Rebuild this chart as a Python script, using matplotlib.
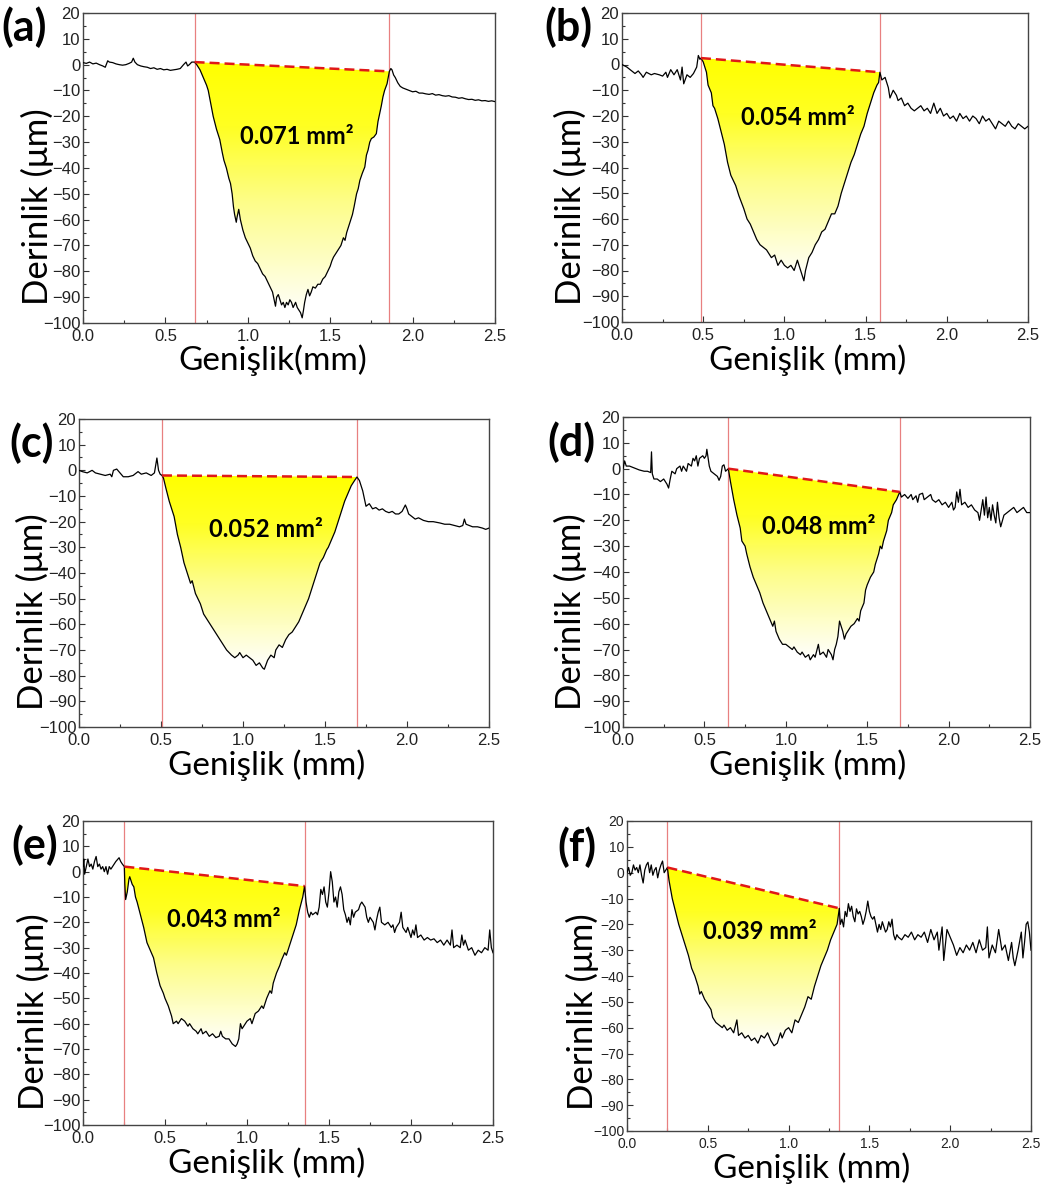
import numpy as np
import matplotlib.pyplot as plt
from matplotlib.colors import LinearSegmentedColormap
from matplotlib.patches import Polygon

W, H = 1063, 1187

# profile data (x in mm, y in um)
xa = [0.0, 0.02, 0.04, 0.06, 0.08, 0.1, 0.12, 0.135, 0.15, 0.16, 0.18, 0.2, 0.22, 0.24, 0.26, 0.28, 0.295, 0.305, 0.315,
      0.33, 0.35, 0.37, 0.39, 0.41, 0.43, 0.45, 0.47, 0.49, 0.51, 0.53, 0.55, 0.57, 0.59, 0.61, 0.625, 0.635, 0.645, 0.66,
      0.677, 0.69, 0.71, 0.73, 0.75, 0.76, 0.775, 0.79, 0.81, 0.83, 0.845, 0.855, 0.87, 0.885, 0.895, 0.905, 0.913, 0.92,
      0.93, 0.935, 0.945, 0.955, 0.97, 0.985, 1.0, 1.015, 1.03, 1.045, 1.06, 1.075, 1.09, 1.105, 1.12, 1.135, 1.15, 1.16,
      1.168, 1.175, 1.185, 1.195, 1.205, 1.215, 1.225, 1.235, 1.245, 1.255, 1.265, 1.275, 1.29, 1.3, 1.31, 1.32, 1.33,
      1.338, 1.345, 1.355, 1.365, 1.375, 1.385, 1.395, 1.41, 1.425, 1.44, 1.455, 1.47, 1.485, 1.5, 1.51, 1.52, 1.535, 1.55,
      1.565, 1.58, 1.59, 1.6, 1.61, 1.625, 1.635, 1.645, 1.66, 1.67, 1.68, 1.695, 1.71, 1.72, 1.73, 1.74, 1.75, 1.765, 1.78,
      1.79, 1.8, 1.81, 1.82, 1.83, 1.845, 1.859, 1.868, 1.875, 1.885, 1.895, 1.91, 1.925, 1.94, 1.96, 1.98, 2.0, 2.02, 2.04,
      2.06, 2.08, 2.1, 2.12, 2.14, 2.16, 2.18, 2.2, 2.22, 2.24, 2.26, 2.28, 2.3, 2.32, 2.34, 2.36, 2.38, 2.4, 2.42, 2.44,
      2.46, 2.48, 2.5]
ya = [0.8, 0.5, 1, 0.3, 0.6, 0, -0.5, -1, 1.5, 1, 0.8, 0.3, 0, -0.2, 0, 0.5, 1, 2.5, 1,
      0, -0.5, -0.8, -1, -1.5, -1.2, -1.8, -1.5, -2, -1.8, -2.2, -2, -1.8, -1.5, 0, 1, -0.5, 0, 1,
      1, 0, -2, -5, -8, -10, -15, -20, -25, -29, -34, -37, -40, -44, -46, -50, -55, -58,
      -61, -59, -56, -60, -64, -67, -69, -71, -74, -76, -77, -79, -81, -82, -84, -86, -88, -91,
      -93.5, -90, -89, -91, -93, -92, -94, -92, -93, -91, -92, -94, -92, -94, -95, -96, -98,
      -95, -92, -89, -87, -89.5, -88, -86, -86.5, -85, -85, -83, -82, -80, -78, -76, -74.5, -73, -71.5,
      -70, -67, -68, -65, -63, -60, -58, -55, -50, -48, -44.8, -42, -39.6, -35, -33, -30, -28.6, -28, -26.7,
      -22, -19, -16, -12.5, -10, -7.4, -2.6, -1.5, -2, -4, -5, -7, -8.4, -9, -9.5, -10, -10.5, -10.3, -11,
      -11, -11.3, -11.5, -11.2, -11.8, -11.6, -12, -12.2, -12, -12.5, -12.6, -13, -12.8, -13.2, -13.5, -13.4, -13.8, -13.6, -14, -13.9,
      -14.2, -14, -14.3]

xb = [0.0, 0.03, 0.05, 0.08, 0.1, 0.12, 0.13, 0.15, 0.18, 0.2, 0.23, 0.25, 0.27, 0.28, 0.3, 0.32, 0.34, 0.36, 0.37, 0.38,
      0.4, 0.42, 0.44, 0.46, 0.47, 0.48, 0.486, 0.5, 0.52, 0.53, 0.55, 0.56, 0.57, 0.59, 0.61, 0.63, 0.65, 0.67, 0.7, 0.72,
      0.75, 0.77, 0.79, 0.81, 0.83, 0.85, 0.87, 0.89, 0.92, 0.94, 0.96, 0.98, 1.0, 1.02, 1.04, 1.06, 1.08, 1.1, 1.12, 1.13,
      1.15, 1.17, 1.19, 1.21, 1.23, 1.25, 1.27, 1.29, 1.31, 1.33, 1.35, 1.37, 1.39, 1.41, 1.43, 1.45, 1.47, 1.49, 1.51,
      1.53, 1.55, 1.57, 1.58, 1.588, 1.6, 1.62, 1.64, 1.65, 1.67, 1.69, 1.7, 1.72, 1.74, 1.76, 1.78, 1.8, 1.82, 1.84, 1.86,
      1.88, 1.9, 1.92, 1.94, 1.96, 1.98, 2.0, 2.02, 2.04, 2.06, 2.08, 2.1, 2.12, 2.14, 2.16, 2.18, 2.2, 2.22, 2.24, 2.26,
      2.28, 2.3, 2.32, 2.34, 2.36, 2.38, 2.4, 2.42, 2.44, 2.46, 2.48, 2.5]
yb = [0, -1, -2, -3.5, -2.5, -4, -5, -3, -4, -3.5, -4, -4.5, -3, -5, -2, -4, -2, -6, -1, -7.5,
      -4, -5, -3.5, -1, 3.5, 2, 2.5, 1, -3, -8, -11, -16, -17, -21, -26, -31, -38, -43, -47, -51,
      -56, -60, -62, -65, -68, -70, -71, -72, -75, -74, -78, -76, -78, -79, -78, -80, -76, -80, -84, -80,
      -75, -73, -70, -68, -65, -64, -61, -58, -58, -55, -50, -46, -42, -38, -35, -31, -27, -24, -19,
      -15, -11, -8, -7, -3, -6, -5, -9, -13, -10, -12, -14, -13, -16, -15, -17, -18, -17, -16, -18,
      -17, -19, -15, -19, -17, -20, -19, -21, -20, -22, -19, -21, -20, -22, -20, -21, -23, -20, -22, -21,
      -23, -25, -22, -23, -24, -22, -24, -25, -23, -24, -25, -24]

xc = [0.0, 0.02, 0.05, 0.08, 0.1, 0.13, 0.16, 0.19, 0.2, 0.21, 0.23, 0.25, 0.27, 0.3, 0.33, 0.35, 0.36, 0.38, 0.41, 0.44,
      0.46, 0.475, 0.485, 0.495, 0.506, 0.515, 0.53, 0.55, 0.58, 0.6, 0.62, 0.64, 0.66, 0.68, 0.69, 0.71, 0.74, 0.76, 0.78,
      0.8, 0.82, 0.84, 0.86, 0.88, 0.9, 0.93, 0.95, 0.97, 0.98, 1.0, 1.02, 1.04, 1.06, 1.08, 1.1, 1.12, 1.13, 1.15, 1.17,
      1.19, 1.2, 1.22, 1.24, 1.26, 1.28, 1.3, 1.32, 1.34, 1.36, 1.38, 1.4, 1.42, 1.44, 1.46, 1.47, 1.49, 1.51, 1.52, 1.54,
      1.56, 1.58, 1.6, 1.62, 1.64, 1.66, 1.68, 1.695, 1.71, 1.72, 1.73, 1.75, 1.77, 1.79, 1.81, 1.83, 1.85, 1.87, 1.89,
      1.91, 1.93, 1.95, 1.97, 1.99, 2.0, 2.01, 2.03, 2.05, 2.07, 2.1, 2.13, 2.16, 2.2, 2.23, 2.26, 2.29, 2.32, 2.34, 2.35,
      2.36, 2.38, 2.4, 2.43, 2.46, 2.48, 2.5]
yc = [0, -0.5, -1, 0, -1, -1.5, -2, -1.5, -2.5, 0, 0.5, -1, -2.5, -2.5, -2, -1, -0.5, -1.5, -1, -2,
      -1, 4.8, 0, -1.5, -2, -3, -7, -12, -18, -25, -30, -36, -40, -44, -43, -48, -52, -56, -58,
      -60, -62, -64, -66, -68, -70, -72, -73, -72, -71, -73, -72, -73, -74, -76, -75, -77, -77.5, -74, -72,
      -73, -70, -68, -69, -66, -64, -63, -61, -59, -56, -53, -50, -46, -42, -38, -36, -34, -31, -30, -27,
      -24, -20, -16, -12, -9, -6, -4, -2.6, -4, -6, -8, -14, -13, -15, -14.5, -15.5, -15, -16, -16.5,
      -16, -17, -17, -16, -13.5, -15, -17, -18, -19, -18.5, -19.5, -20, -20, -20.5, -21, -21, -21.5, -22, -21.5, -19,
      -21, -21.5, -22, -22, -22.5, -23, -22.5]

xd = [0.0, 0.01, 0.02, 0.04, 0.06, 0.08, 0.1, 0.13, 0.15, 0.17, 0.175, 0.18, 0.19, 0.21, 0.23, 0.25, 0.27, 0.28, 0.29,
      0.3, 0.32, 0.33, 0.35, 0.36, 0.37, 0.39, 0.4, 0.42, 0.43, 0.44, 0.45, 0.46, 0.47, 0.49, 0.5, 0.51, 0.515, 0.53, 0.54,
      0.56, 0.58, 0.59, 0.6, 0.61, 0.62, 0.63, 0.647, 0.66, 0.68, 0.7, 0.72, 0.73, 0.74, 0.75, 0.76, 0.78, 0.8, 0.82, 0.84,
      0.86, 0.88, 0.9, 0.92, 0.93, 0.94, 0.96, 0.98, 1.0, 1.02, 1.04, 1.05, 1.07, 1.09, 1.1, 1.12, 1.14, 1.15, 1.17, 1.18,
      1.2, 1.21, 1.23, 1.25, 1.26, 1.28, 1.29, 1.3, 1.31, 1.32, 1.33, 1.34, 1.35, 1.36, 1.37, 1.38, 1.4, 1.42, 1.44, 1.45,
      1.46, 1.48, 1.49, 1.5, 1.52, 1.54, 1.55, 1.57, 1.58, 1.59, 1.6, 1.62, 1.63, 1.65, 1.66, 1.68, 1.7, 1.71, 1.73, 1.75,
      1.77, 1.78, 1.8, 1.81, 1.82, 1.84, 1.85, 1.87, 1.89, 1.9, 1.92, 1.94, 1.96, 1.98, 2.0, 2.01, 2.02, 2.03, 2.04, 2.05,
      2.06, 2.07, 2.08, 2.1, 2.12, 2.14, 2.16, 2.18, 2.19, 2.2, 2.21, 2.22, 2.23, 2.24, 2.25, 2.26, 2.27, 2.28, 2.29, 2.3,
      2.31, 2.32, 2.34, 2.36, 2.38, 2.4, 2.42, 2.44, 2.46, 2.48, 2.5]
yd = [0, 3, 1, 1, 0.5, 0, -0.5, -1, -1, -1.5, 6.5, -2, -4, -4, -5, -4, -6, -7.5, -4,
      -1, -2, 0, 1, -1, 1, -1, 2, 1, 4, 3, 5, 1, 4, 5, 4, 5, 7.5, 1, -1,
      -2, -3, -4.5, -3, 1, 1.5, -1, 0, -5, -12, -18, -23, -28, -29, -30, -33, -38, -42, -45, -48,
      -52, -55, -58, -61, -59, -63, -66, -68, -68, -69, -70, -69, -71, -72, -71, -73, -72, -74, -72, -73,
      -68, -72, -71, -73, -70, -72, -74, -70, -68, -65, -59, -61, -63, -66, -64, -63, -61, -60, -58, -59,
      -55, -52, -47, -45, -42, -40, -37, -33, -30, -31, -28, -24, -20, -17, -14, -12, -9, -11, -10, -11.5,
      -10, -12, -10.5, -13, -10, -9.5, -12, -11, -10, -12, -13, -12, -14, -13, -15, -14, -13, -16, -15, -9,
      -13, -8, -14, -13, -15, -14, -16, -17, -20, -16, -12, -18, -11, -19, -15, -20, -14, -18, -21, -13,
      -19, -22.5, -18, -17, -16, -15, -17, -16, -15, -17, -17]

xe = [0.0, 0.005, 0.01, 0.02, 0.03, 0.04, 0.05, 0.06, 0.07, 0.08, 0.09, 0.1, 0.11, 0.12, 0.13, 0.14, 0.15, 0.16, 0.17,
      0.18, 0.19, 0.2, 0.22, 0.23, 0.24, 0.252, 0.255, 0.26, 0.27, 0.28, 0.285, 0.3, 0.31, 0.32, 0.33, 0.35, 0.37, 0.39,
      0.41, 0.43, 0.45, 0.47, 0.49, 0.5, 0.52, 0.54, 0.55, 0.57, 0.58, 0.6, 0.62, 0.64, 0.65, 0.67, 0.69, 0.7, 0.72, 0.73,
      0.75, 0.77, 0.79, 0.81, 0.83, 0.84, 0.85, 0.87, 0.89, 0.91, 0.93, 0.94, 0.95, 0.96, 0.97, 0.98, 1.0, 1.02, 1.03,
      1.05, 1.07, 1.09, 1.1, 1.12, 1.14, 1.15, 1.16, 1.18, 1.2, 1.21, 1.23, 1.24, 1.26, 1.28, 1.3, 1.32, 1.34, 1.351, 1.36,
      1.37, 1.38, 1.39, 1.4, 1.42, 1.43, 1.44, 1.45, 1.46, 1.47, 1.48, 1.49, 1.5, 1.51, 1.52, 1.53, 1.54, 1.55, 1.56, 1.57,
      1.58, 1.59, 1.6, 1.61, 1.62, 1.63, 1.64, 1.65, 1.66, 1.68, 1.69, 1.7, 1.72, 1.73, 1.74, 1.75, 1.77, 1.78, 1.79, 1.8,
      1.81, 1.82, 1.84, 1.86, 1.88, 1.89, 1.9, 1.91, 1.93, 1.94, 1.95, 1.97, 1.98, 2.0, 2.01, 2.02, 2.03, 2.04, 2.06, 2.08,
      2.1, 2.12, 2.14, 2.16, 2.18, 2.2, 2.22, 2.24, 2.25, 2.26, 2.28, 2.3, 2.31, 2.32, 2.33, 2.35, 2.37, 2.39, 2.41, 2.43,
      2.45, 2.47, 2.48, 2.49, 2.5]
ye = [2, 5, -1, 2, 5, 2, 3, 1, 4, 6, 2, 3, 1, 2, 0, 2, -1, 2, 1,
      2, 3, 4, 5.5, 4, 3, 2, -5, -11, -8, -3, -2, -5, -6, -10, -12, -17, -22, -28,
      -31, -34, -40, -45, -48, -50, -53, -57, -60, -59, -60, -58, -59, -61, -60, -62, -63, -64, -62, -64,
      -63, -65, -64, -65.5, -65, -63, -65, -66, -66, -68, -69, -68, -66, -60, -62, -61, -59, -58, -60,
      -56, -55, -53, -54, -50, -47, -48, -44, -40, -37, -35, -32, -33, -29, -25, -21, -15, -10, -5.7, -12,
      -16, -18, -16, -17, -16, -17, -14, -7, -9, -6, -12, -14, -8, 0, -4, -12, -10, -14, -8, -6,
      -9, -15, -17, -20, -18, -21, -15, -18, -16, -15, -13, -12, -14, -18, -20, -18, -20, -23, -19, -16,
      -14, -20, -21, -20, -22, -21, -24, -22, -20, -16, -22, -24, -22, -26, -23, -25, -21, -26, -25, -27,
      -26, -27, -26.5, -28, -27, -29, -27, -29, -23, -30, -29, -30, -25, -29, -27, -31, -30, -33, -31, -32,
      -30, -31, -23, -30, -32]

xf = [0.0, 0.01, 0.02, 0.03, 0.04, 0.05, 0.06, 0.07, 0.08, 0.09, 0.1, 0.11, 0.12, 0.13, 0.14, 0.15, 0.16, 0.17, 0.18,
      0.19, 0.2, 0.21, 0.22, 0.23, 0.24, 0.25, 0.26, 0.28, 0.3, 0.32, 0.34, 0.36, 0.38, 0.4, 0.42, 0.44, 0.45, 0.46, 0.48,
      0.5, 0.52, 0.53, 0.55, 0.57, 0.59, 0.6, 0.62, 0.64, 0.66, 0.68, 0.69, 0.71, 0.73, 0.75, 0.77, 0.79, 0.81, 0.83, 0.85,
      0.87, 0.89, 0.91, 0.93, 0.95, 0.96, 0.98, 1.0, 1.02, 1.04, 1.06, 1.08, 1.1, 1.12, 1.14, 1.16, 1.18, 1.2, 1.22, 1.24,
      1.26, 1.28, 1.3, 1.314, 1.32, 1.33, 1.34, 1.35, 1.36, 1.37, 1.38, 1.39, 1.4, 1.41, 1.42, 1.43, 1.44, 1.45, 1.46, 1.47,
      1.48, 1.49, 1.5, 1.51, 1.52, 1.53, 1.54, 1.55, 1.56, 1.57, 1.58, 1.59, 1.6, 1.61, 1.62, 1.63, 1.64, 1.65, 1.66, 1.67,
      1.68, 1.7, 1.72, 1.74, 1.76, 1.78, 1.8, 1.82, 1.84, 1.86, 1.88, 1.9, 1.92, 1.93, 1.95, 1.96, 1.98, 2.0, 2.02, 2.04,
      2.06, 2.08, 2.1, 2.12, 2.14, 2.16, 2.18, 2.2, 2.22, 2.23, 2.24, 2.26, 2.28, 2.3, 2.32, 2.34, 2.36, 2.38, 2.39, 2.4,
      2.42, 2.44, 2.45, 2.46, 2.47, 2.48, 2.49, 2.5]
yf = [0, 2, -1, 0, 3, 1, 2, 0, 3, -1, -4, 1, 3, 4, 0, 3, -1, 1, 2,
      -2, 1, 3, 4.5, 0, 1, 2, -3, -10, -15, -20, -24, -28, -32, -37, -40, -44, -47, -46, -49,
      -51, -53, -56, -58, -59, -60, -59, -61, -60, -62, -57, -63, -62, -64, -63, -65, -64, -66, -63, -64,
      -62, -65, -67, -66, -62, -64, -61, -60, -62, -57, -58, -55, -52, -48, -49, -44, -40, -36, -33, -30,
      -26, -23, -20, -13.8, -20, -18, -21, -15, -17, -12, -15, -13, -17, -19, -14, -16, -15, -17, -20, -18,
      -15, -11, -15, -17, -18, -17, -20, -23, -20, -22, -19, -21, -23, -22, -19, -21, -18, -24, -26, -24,
      -25, -26, -24, -25, -23, -26, -24, -25, -23, -27, -22, -26, -23, -30, -21, -34, -22, -25, -28, -32,
      -29, -31, -28, -30, -27, -31, -26, -30, -29, -21, -33, -28, -31, -22, -30, -28, -34, -27, -33, -36,
      -30, -23, -33, -27, -20, -19, -23, -30]

letters = ["(a)", "(b)", "(c)", "(d)", "(e)", "(f)"]
areas = ["0.071 mm²", "0.054 mm²", "0.052 mm²", "0.048 mm²", "0.043 mm²", "0.039 mm²"]
# crater edges: left x, left y, right x, right y
edges = [(0.677, 1, 1.859, -2.6), (0.486, 2.5, 1.588, -3), (0.506, -2, 1.695, -2.6),
         (0.647, 0, 1.70, -9), (0.252, 2, 1.351, -5.7), (0.25, 2, 1.314, -13.8)]
area_pos = [(1.30, -28), (1.086, -20.5), (1.142, -23), (1.204, -22.5), (0.858, -19), (0.822, -22.8)]
xlabels = ["Genişlik(mm)", "Genişlik (mm)", "Genişlik (mm)", "Genişlik (mm)", "Genişlik (mm)", "Genişlik (mm)"]
profiles = [(xa, ya), (xb, yb), (xc, yc), (xd, yd), (xe, ye), (xf, yf)]

# layout in pixels
boxes = [(83, 13, 495, 323), (622, 13, 1028, 322), (79, 419, 489, 727),
         (623, 417, 1030, 727), (83, 821, 493, 1125), (627, 821, 1031, 1131)]
letter_xy = [(1, 27), (544, 27), (9, 443), (547, 442), (11, 845), (557, 847)]
ylab_xy = [(37, 207), (570, 207), (32, 612), (570, 612), (33, 1012), (582, 1012)]
xlab_xy = [(273, 360), (808, 360), (267, 765), (808, 765), (267, 1163), (812, 1168)]

lab_font = ["Lato", "DejaVu Sans"]
cmap = LinearSegmentedColormap.from_list("pit", [(0, "#ffffff"), (0.45, "#fdfd8a"), (0.75, "#ffff22"), (1, "#ffff00")])

fig = plt.figure(figsize=(W / 100, H / 100), dpi=100)

for i in range(6):
    l, t, r, b = boxes[i]
    ax = fig.add_axes([l / W, 1 - b / H, (r - l) / W, (b - t) / H])
    x, y = profiles[i]
    xl, yl, xr, yr = edges[i]

    # gradient fill inside the crater
    inside = [(px, py) for px, py in zip(x, y) if xl < px < xr]
    poly = Polygon([(xl, yl)] + inside + [(xr, yr)], closed=True, facecolor="none", edgecolor="none")
    ax.add_patch(poly)
    ybot = min(py for _, py in inside)
    grad = np.linspace(0, 1, 256).reshape(-1, 1)
    im = ax.imshow(grad, cmap=cmap, origin="lower", aspect="auto",
                   extent=[xl, xr, ybot, max(yl, yr)], zorder=1)
    im.set_clip_path(poly)

    ax.axvline(xl, color="#e88080", lw=0.9, zorder=2)
    ax.axvline(xr, color="#e88080", lw=0.9, zorder=2)
    ax.plot(x, y, color="black", lw=0.9, zorder=3)
    ax.plot([xl, xr], [yl, yr], color="#e01818", lw=1.8, ls=(0, (4, 2)), zorder=4)

    ax.text(area_pos[i][0], area_pos[i][1], areas[i], ha="center", va="center",
            fontsize=17, fontweight="bold", family=lab_font, zorder=5)

    ax.set_xlim(0, 2.5)
    ax.set_ylim(-100, 20)
    ax.set_xticks(np.arange(0, 2.51, 0.5))
    ax.set_xticks(np.arange(0.25, 2.5, 0.5), minor=True)
    ax.set_yticks(np.arange(-100, 21, 10))
    ax.set_yticks(np.arange(-95, 20, 10), minor=True)
    ts = 10 if i == 5 else 12
    ax.set_xticklabels(["0.0", "0.5", "1.0", "1.5", "2.0", "2.5"])
    ax.tick_params(which="both", direction="in", labelsize=ts, color="#333333", labelcolor="#222222",
                   labelfontfamily="Liberation Sans")
    ax.tick_params(axis="y", pad=2)
    ax.tick_params(axis="x", pad=4.5)
    ax.tick_params(which="major", length=4, width=0.8)
    ax.tick_params(which="minor", length=2.5, width=0.8)
    for s in ax.spines.values():
        s.set_color("#444444")
        s.set_linewidth(1.0)

    fig.text(letter_xy[i][0] / W, 1 - letter_xy[i][1] / H, letters[i], ha="left", va="center",
             fontsize=31, fontweight="bold", family=lab_font)
    fig.text(ylab_xy[i][0] / W, 1 - ylab_xy[i][1] / H, "Derinlik (μm)", ha="center", va="center",
             rotation=90, fontsize=25, family=lab_font)
    fig.text(xlab_xy[i][0] / W, 1 - xlab_xy[i][1] / H, xlabels[i], ha="center", va="center",
             fontsize=24, family=lab_font)

fig.savefig("out.png", dpi=100)
